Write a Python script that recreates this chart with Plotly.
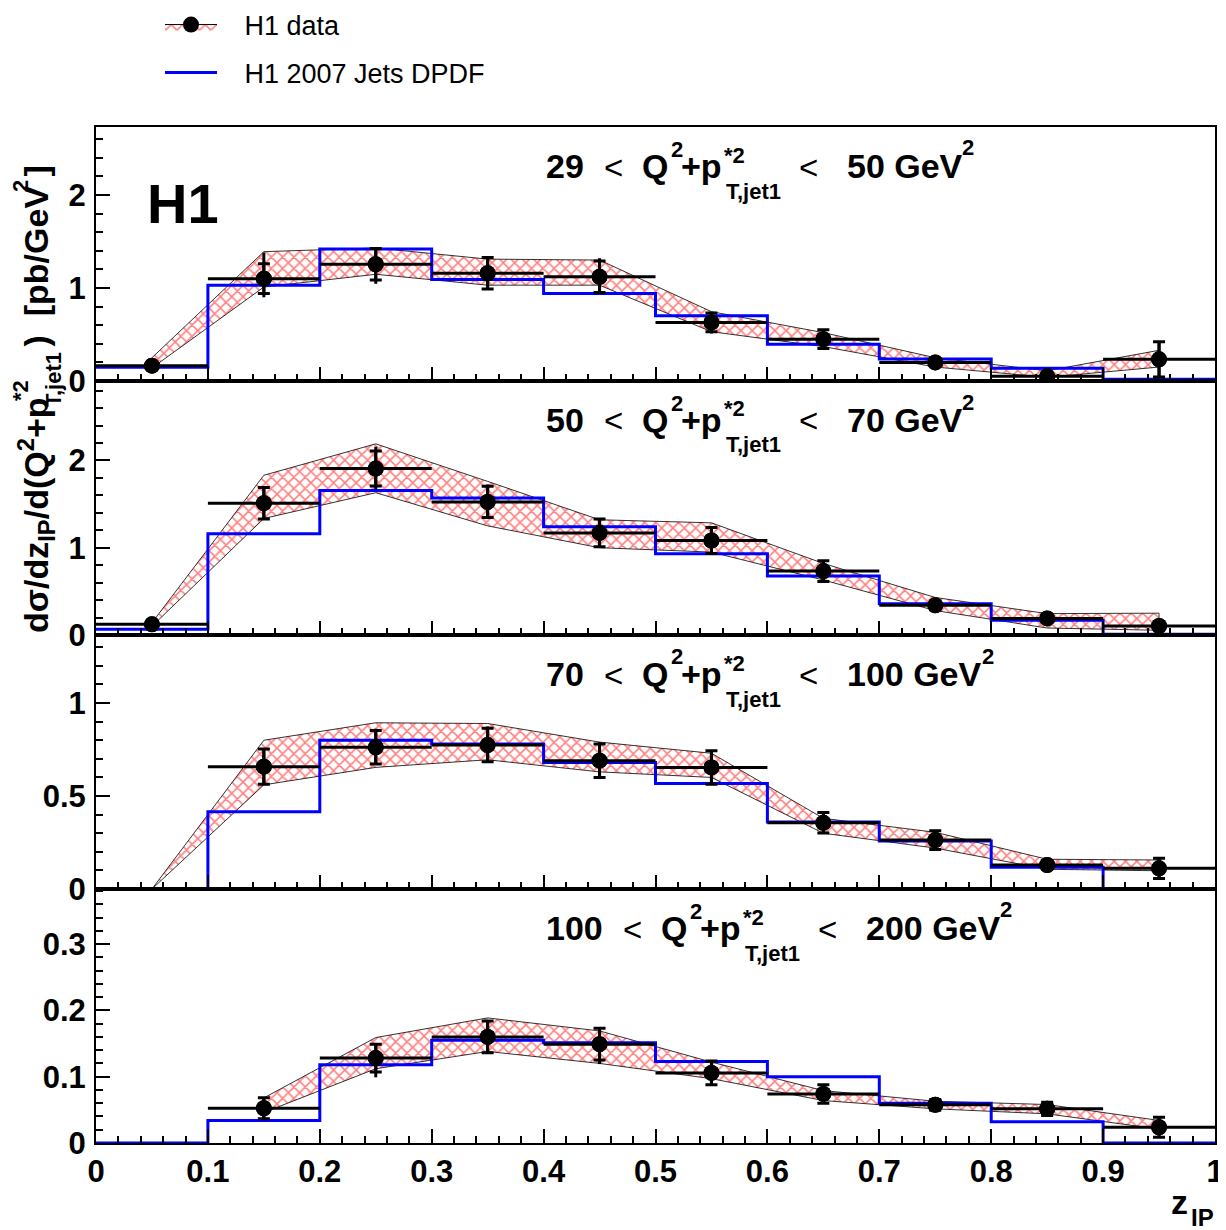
import plotly.graph_objects as go

# ---------------- data ----------------
z_centers = [0.05, 0.15, 0.25, 0.35, 0.45, 0.55, 0.65, 0.75, 0.85, 0.95]
bin_edges = [0.0, 0.1, 0.2, 0.3, 0.4, 0.5, 0.6, 0.7, 0.8, 0.9, 1.0]
bin_half = [0.05, 0.05, 0.05, 0.05, 0.05, 0.05, 0.05, 0.05, 0.05, 0.05]

q2_low = ["29", "50", "70", "100"]
q2_high = ["50", "70", "100", "200"]

# panel 1 : 29 < Q2+pT2 < 50
data1 = [0.165, 1.10, 1.255, 1.158, 1.12, 0.63, 0.45, 0.20, 0.05, 0.233]
stat1 = [0.02, 0.16, 0.17, 0.17, 0.17, 0.10, 0.10, 0.03, 0.02, 0.19]
totup1 = [0.02, 0.28, 0.18, 0.18, 0.20, 0.10, 0.10, 0.03, 0.02, 0.19]
totdn1 = [0.02, 0.20, 0.21, 0.17, 0.17, 0.12, 0.10, 0.03, 0.02, 0.19]
bandhi1 = [0.25, 1.39, 1.43, 1.31, 1.30, 0.745, 0.52, 0.25, 0.11, 0.33]
bandlo1 = [0.14, 1.01, 1.147, 1.03, 1.03, 0.53, 0.37, 0.15, 0.04, 0.15]
dpdf1 = [0.147, 1.03, 1.42, 1.09, 0.94, 0.70, 0.395, 0.237, 0.136, 0.02]

# panel 2 : 50 < Q2+pT2 < 70
data2 = [0.122, 1.51, 1.907, 1.525, 1.17, 1.083, 0.732, 0.34, 0.19, 0.103]
stat2 = [0.01, 0.18, 0.20, 0.18, 0.16, 0.15, 0.12, 0.05, 0.04, 0.03]
totup2 = [0.01, 0.18, 0.25, 0.20, 0.16, 0.15, 0.12, 0.05, 0.04, 0.03]
totdn2 = [0.01, 0.18, 0.24, 0.19, 0.16, 0.15, 0.13, 0.05, 0.04, 0.03]
bandhi2 = [0.14, 1.83, 2.19, 1.76, 1.32, 1.285, 0.82, 0.43, 0.245, 0.25]
bandlo2 = [0.10, 1.335, 1.63, 1.25, 1.0, 0.95, 0.63, 0.28, 0.08, 0.054]
dpdf2 = [0.065, 1.16, 1.655, 1.57, 1.24, 0.93, 0.675, 0.358, 0.168, 0.01]

# panel 3 : 70 < Q2+pT2 < 100
data3 = [None, 0.658, 0.762, 0.774, 0.69, 0.654, 0.356, 0.263, 0.129, 0.111]
stat3 = [None, 0.095, 0.09, 0.09, 0.09, 0.09, 0.055, 0.05, 0.02, 0.055]
totup3 = [None, 0.095, 0.10, 0.10, 0.10, 0.093, 0.055, 0.05, 0.02, 0.055]
totdn3 = [None, 0.095, 0.095, 0.09, 0.085, 0.09, 0.06, 0.05, 0.02, 0.06]
bandhi3 = [0.0, 0.80, 0.894, 0.89, 0.79, 0.73, 0.38, 0.305, 0.16, 0.156]
bandlo3 = [0.0, 0.56, 0.654, 0.695, 0.63, 0.60, 0.30, 0.22, 0.106, 0.098]
dpdf3 = [0.0, 0.415, 0.80, 0.78, 0.68, 0.568, 0.36, 0.258, 0.117, 0.0]

# panel 4 : 100 < Q2+pT2 < 200
data4 = [None, 0.0524, 0.128, 0.160, 0.149, 0.1057, 0.074, 0.0575, 0.0515, 0.0238]
stat4 = [None, 0.016, 0.021, 0.024, 0.024, 0.018, 0.014, 0.008, 0.01, 0.015]
totup4 = [None, 0.016, 0.021, 0.024, 0.025, 0.018, 0.014, 0.008, 0.01, 0.015]
totdn4 = [None, 0.016, 0.029, 0.024, 0.030, 0.019, 0.014, 0.008, 0.01, 0.015]
bandhi4 = [None, 0.068, 0.159, 0.1886, 0.169, 0.122, 0.079, 0.063, 0.058, 0.034]
bandlo4 = [None, 0.046, 0.112, 0.138, 0.12, 0.097, 0.064, 0.0515, 0.044, 0.021]
dpdf4 = [0.0, 0.034, 0.118, 0.155, 0.151, 0.123, 0.10, 0.060, 0.032, 0.0]

y_max = [2.73, 2.91, 1.366, 0.383]
y_dtick = [1, 1, 0.5, 0.1]
y_minor = [0.2, 0.2, 0.1, 0.02]

panels = [
    dict(data=data1, stat=stat1, up=totup1, dn=totdn1, hi=bandhi1, lo=bandlo1, dpdf=dpdf1),
    dict(data=data2, stat=stat2, up=totup2, dn=totdn2, hi=bandhi2, lo=bandlo2, dpdf=dpdf2),
    dict(data=data3, stat=stat3, up=totup3, dn=totdn3, hi=bandhi3, lo=bandlo3, dpdf=dpdf3),
    dict(data=data4, stat=stat4, up=totup4, dn=totdn4, hi=bandhi4, lo=bandlo4, dpdf=dpdf4),
]

# ---------------- layout geometry (screen pixels) ----------------
W, H = 1226, 1230
OFF = 8          # default page-body margin of the html page
X0, X1 = 96, 1215
TOP0 = 127
PH = 254
FONT = "Liberation Sans"
RED = "#ff0000"
BLUE = "#0000ff"


def fx(px):
    return (px - OFF) / W


def fy(py):
    return 1 - (py - OFF) / H


pattern = dict(shape="x", fgcolor=RED, bgcolor="white", size=8, solidity=0.35)

fig = go.Figure()

for i, p in enumerate(panels):
    sfx = "" if i == 0 else str(i + 1)
    xa, ya = "x" + sfx, "y" + sfx

    # uncertainty band
    bx = [z for z, v in zip(z_centers, p["hi"]) if v is not None]
    bh = [v for v in p["hi"] if v is not None]
    bl = [v for v in p["lo"] if v is not None]
    fig.add_trace(go.Scatter(
        x=bx + bx[::-1], y=bh + bl[::-1], fill="toself", mode="lines",
        line=dict(color="black", width=0.8), fillcolor="white", fillpattern=pattern,
        showlegend=False, hoverinfo="skip", xaxis=xa, yaxis=ya))

    # DPDF histogram
    fig.add_trace(go.Scatter(
        x=bin_edges, y=p["dpdf"] + [p["dpdf"][-1]], mode="lines", line_shape="hv",
        line=dict(color=BLUE, width=3), name="\u00a0\u00a0\u00a0H1 2007 Jets DPDF",
        showlegend=(i == 0), legend="legend2", xaxis=xa, yaxis=ya))

    # data points
    idx = [k for k, v in enumerate(p["data"]) if v is not None]
    px_ = [z_centers[k] for k in idx]
    py_ = [p["data"][k] for k in idx]
    fig.add_trace(go.Scatter(
        x=px_, y=py_, mode="markers",
        marker=dict(color="black", size=16),
        error_x=dict(type="data", array=[bin_half[k] for k in idx], width=0, thickness=3, color="black"),
        error_y=dict(type="data", symmetric=False, array=[p["up"][k] for k in idx],
                     arrayminus=[p["dn"][k] for k in idx], width=0, thickness=3, color="black"),
        showlegend=False, xaxis=xa, yaxis=ya))
    fig.add_trace(go.Scatter(
        x=px_, y=py_, mode="markers",
        marker=dict(color="black", size=16),
        error_y=dict(type="data", array=[p["stat"][k] for k in idx], width=6, thickness=3, color="black"),
        showlegend=False, xaxis=xa, yaxis=ya))

# legend-only entry for data
fig.add_trace(go.Scatter(
    x=[None], y=[None], mode="lines+markers", fill="toself", name="\u00a0\u00a0\u00a0H1 data",
    line=dict(color="black", width=1), fillcolor="white", fillpattern=pattern,
    marker=dict(color="black", size=16), legend="legend"))

axis_common = dict(showgrid=False, zeroline=False, showline=True, linecolor="black", linewidth=2,
                   mirror=True, ticks="inside", ticklen=14, tickwidth=2, tickcolor="black",
                   automargin=False,
                   tickfont=dict(family=FONT, size=31, color="black", weight="bold"))

layout = dict(width=W, height=H, margin=dict(l=0, r=0, t=0, b=0, autoexpand=False), autosize=False,
              plot_bgcolor="white", paper_bgcolor="white", showlegend=True)

for i in range(4):
    sfx = "" if i == 0 else str(i + 1)
    top = TOP0 + PH * i
    bot = top + PH
    layout["xaxis" + sfx] = dict(
        axis_common, domain=[fx(X0), fx(X1)], range=[0, 1], dtick=0.1, tick0=0,
        anchor="y" + sfx, showticklabels=(i == 3), ticklabelstandoff=0,
        minor=dict(ticks="inside", ticklen=7, dtick=0.02, tickwidth=2, tickcolor="black"),
        **({} if i == 3 else {"matches": "x4"}))
    layout["yaxis" + sfx] = dict(
        axis_common, domain=[fy(bot), fy(top)], range=[0, y_max[i]], dtick=y_dtick[i], tick0=0,
        anchor="x" + sfx, ticklabelstandoff=2,
        minor=dict(ticks="inside", ticklen=7, dtick=y_minor[i], tickwidth=2, tickcolor="black"))

layout["legend"] = dict(x=fx(160), y=fy(25), xanchor="left", yanchor="middle",
                        bgcolor="rgba(0,0,0,0)", borderwidth=0, itemwidth=52,
                        font=dict(family=FONT, size=27, color="black"))
layout["legend2"] = dict(x=fx(160), y=fy(73), xanchor="left", yanchor="middle",
                         bgcolor="rgba(0,0,0,0)", borderwidth=0, itemwidth=52,
                         font=dict(family=FONT, size=27, color="black"))


def ann(text, px, py, size, bold=True, xanchor="left", yanchor="middle", angle=0):
    return dict(text=text, x=fx(px), y=fy(py), xref="paper", yref="paper",
                xanchor=xanchor, yanchor=yanchor, showarrow=False, textangle=angle,
                borderpad=0,
                font=dict(family=FONT, size=size, color="black", weight="bold" if bold else "normal"))


annotations = []
gev_sup_x = [961, 961, 981, 999]
for i in range(4):
    top = TOP0 + PH * i
    yc = top + 39
    dx = 19 if len(q2_low[i]) == 3 else 0
    annotations += [
        ann(q2_low[i], 545, yc, 34),
        ann("<", 603 + dx, yc + 1, 33, bold=False),
        ann("Q", 641 + dx, yc, 34),
        ann("2", 670 + dx, yc - 17, 22),
        ann("+p", 680 + dx, yc, 34),
        ann("*2", 723 + dx, yc - 11, 22),
        ann("T,jet1", 725 + dx, yc + 25, 22),
        ann("<", 798 + dx, yc + 1, 33, bold=False),
        ann(q2_high[i] + " GeV", 846 + dx, yc, 34),
        ann("2", gev_sup_x[i], yc - 18, 22),
    ]

annotations.append(ann("H1", 146, 203, 56))

# y-axis title (rotated)
annotations += [
    ann("d\u03c3/dz<sub>IP</sub>/d(Q<sup>2</sup>+p", 36, 634, 34, xanchor="center", yanchor="bottom", angle=-90),
    ann("*2", 20, 390, 22, xanchor="center", yanchor="middle", angle=-90),
    ann("T,jet1", 53, 380, 22, xanchor="center", yanchor="middle", angle=-90),
    ann(")\u00a0\u00a0[pb/GeV", 36, 348, 34, xanchor="center", yanchor="bottom", angle=-90),
    ann("2", 20, 186, 22, xanchor="center", yanchor="middle", angle=-90),
    ann("]", 36, 178, 34, xanchor="center", yanchor="bottom", angle=-90),
]

# x-axis title
annotations += [
    ann("z", 1189, 1202, 34, xanchor="right"),
    ann("IP", 1190, 1217, 24),
]

layout["annotations"] = annotations
fig.update_layout(**layout)
fig.write_html("out.html")
